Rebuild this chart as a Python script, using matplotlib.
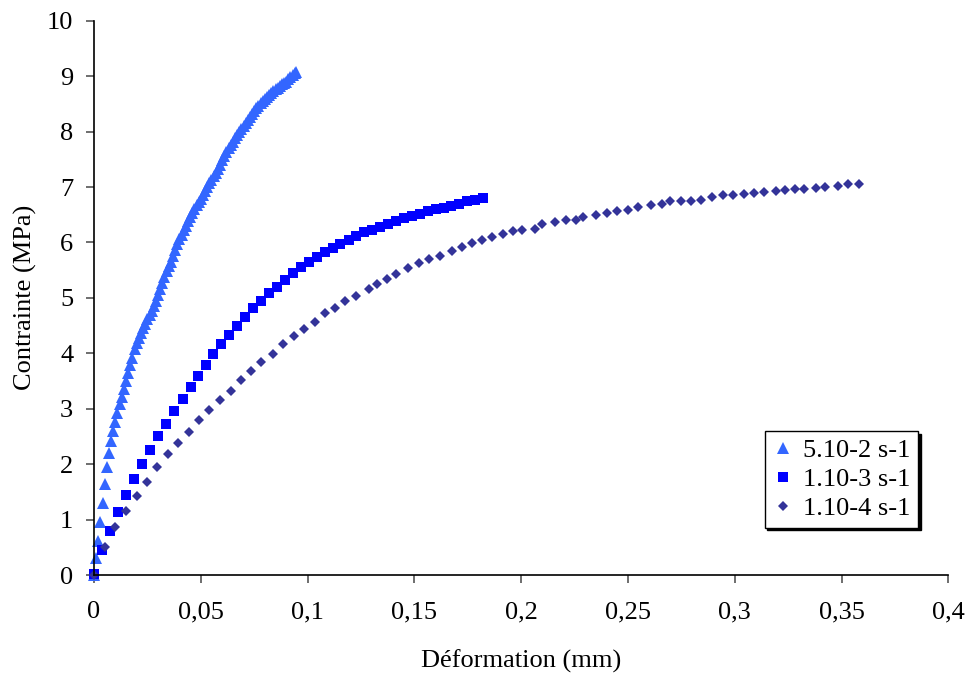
import matplotlib
matplotlib.use("Agg")
import matplotlib.pyplot as plt

# 5.10-2 s-1 (triangles)
strain_fast = [0.000, 0.001, 0.002, 0.003, 0.004, 0.005, 0.006, 0.007, 0.008, 0.009,
               0.010, 0.011, 0.012, 0.013, 0.014, 0.015, 0.016, 0.017, 0.018, 0.019,
               0.020, 0.021, 0.022, 0.023, 0.024, 0.025, 0.026, 0.027, 0.028, 0.029,
               0.030, 0.031, 0.032, 0.033, 0.034, 0.035, 0.036, 0.037, 0.038, 0.039,
               0.040, 0.041, 0.042, 0.043, 0.044, 0.045, 0.046, 0.047, 0.048, 0.049,
               0.050, 0.051, 0.052, 0.053, 0.054, 0.055, 0.056, 0.057, 0.058, 0.059,
               0.060, 0.061, 0.062, 0.063, 0.064, 0.065, 0.066, 0.067, 0.068, 0.069,
               0.070, 0.071, 0.072, 0.073, 0.074, 0.075, 0.076, 0.077, 0.078, 0.079,
               0.080, 0.081, 0.082, 0.083, 0.084, 0.085, 0.086, 0.087, 0.088, 0.089,
               0.090, 0.091, 0.092, 0.093, 0.094, 0.0948]
stress_fast = [0.00, 0.30, 0.62, 0.95, 1.30, 1.64, 1.95, 2.20, 2.41, 2.59,
               2.76, 2.93, 3.08, 3.22, 3.36, 3.50, 3.64, 3.78, 3.92, 4.07,
               4.18, 4.27, 4.36, 4.45, 4.53, 4.61, 4.69, 4.77, 4.86, 4.95,
               5.05, 5.16, 5.27, 5.38, 5.48, 5.57, 5.65, 5.75, 5.86, 5.97,
               6.06, 6.14, 6.22, 6.30, 6.38, 6.46, 6.54, 6.61, 6.67, 6.73,
               6.79, 6.86, 6.93, 7.00, 7.07, 7.13, 7.19, 7.26, 7.33, 7.40,
               7.48, 7.56, 7.63, 7.70, 7.76, 7.82, 7.88, 7.94, 7.99, 8.05,
               8.10, 8.16, 8.21, 8.26, 8.32, 8.37, 8.42, 8.46, 8.51, 8.55,
               8.59, 8.63, 8.66, 8.70, 8.73, 8.76, 8.79, 8.82, 8.85, 8.87,
               8.90, 8.94, 8.98, 9.02, 9.05, 9.08]

# 1.10-3 s-1 (squares)
strain_mid = [0.0000, 0.0039, 0.0075, 0.0114, 0.0151, 0.0189, 0.0226, 0.0262, 0.0299, 0.0337,
              0.0376, 0.0415, 0.0452, 0.0488, 0.0524, 0.0558, 0.0596, 0.0633, 0.0670, 0.0708,
              0.0745, 0.0783, 0.0820, 0.0858, 0.0895, 0.0932, 0.0970, 0.1007, 0.1042, 0.1081,
              0.1117, 0.1154, 0.1192, 0.1229, 0.1265, 0.1302, 0.1339, 0.1375, 0.1413, 0.1450,
              0.1489, 0.1525, 0.1564, 0.1600, 0.1637, 0.1673, 0.1709, 0.1746, 0.1786, 0.1821]
stress_mid = [0.02, 0.45, 0.79, 1.14, 1.44, 1.74, 2.01, 2.26, 2.50, 2.73,
              2.95, 3.17, 3.39, 3.59, 3.79, 3.98, 4.16, 4.33, 4.50, 4.66,
              4.81, 4.95, 5.08, 5.20, 5.33, 5.44, 5.55, 5.64, 5.73, 5.82,
              5.90, 5.97, 6.04, 6.12, 6.18, 6.23, 6.28, 6.34, 6.39, 6.44,
              6.48, 6.52, 6.56, 6.60, 6.63, 6.66, 6.70, 6.74, 6.77, 6.80]

# 1.10-4 s-1 (diamonds)
strain_slow = [0.0000, 0.0051, 0.0100, 0.0150, 0.0200, 0.0247, 0.0293, 0.0345, 0.0395, 0.0444,
               0.0493, 0.0540, 0.0590, 0.0640, 0.0688, 0.0734, 0.0784, 0.0836, 0.0886, 0.0936,
               0.0984, 0.1034, 0.1081, 0.1127, 0.1177, 0.1229, 0.1288, 0.1326, 0.1374, 0.1416,
               0.1472, 0.1522, 0.1569, 0.1622, 0.1676, 0.1723, 0.1770, 0.1818, 0.1865, 0.1915,
               0.1962, 0.2006, 0.2063, 0.2097, 0.2160, 0.2211, 0.2255, 0.2289, 0.2350, 0.2401,
               0.2451, 0.2501, 0.2548, 0.2609, 0.2661, 0.2695, 0.2749, 0.2793, 0.2844, 0.2894,
               0.2946, 0.2994, 0.3041, 0.3092, 0.3135, 0.3191, 0.3233, 0.3281, 0.3322, 0.3381,
               0.3423, 0.3482, 0.3529, 0.3581]
stress_slow = [0.00, 0.51, 0.87, 1.16, 1.43, 1.68, 1.95, 2.18, 2.38, 2.58,
               2.80, 2.97, 3.15, 3.32, 3.52, 3.68, 3.84, 3.99, 4.16, 4.31,
               4.43, 4.57, 4.72, 4.82, 4.95, 5.04, 5.16, 5.25, 5.34, 5.43,
               5.53, 5.63, 5.70, 5.76, 5.85, 5.92, 5.99, 6.05, 6.09, 6.16,
               6.20, 6.23, 6.25, 6.33, 6.37, 6.40, 6.41, 6.46, 6.50, 6.53,
               6.56, 6.59, 6.64, 6.67, 6.69, 6.74, 6.74, 6.75, 6.77, 6.82,
               6.85, 6.85, 6.88, 6.90, 6.91, 6.93, 6.94, 6.96, 6.97, 6.99,
               7.00, 7.02, 7.05, 7.06]

labels = ["5.10-2 s-1", "1.10-3 s-1", "1.10-4 s-1"]
x_ticks = [0, 0.05, 0.1, 0.15, 0.2, 0.25, 0.3, 0.35, 0.4]
x_tick_labels = ["0", "0,05", "0,1", "0,15", "0,2", "0,25", "0,3", "0,35", "0,4"]
y_ticks = list(range(0, 11))

plt.rcParams['font.family'] = ['Liberation Serif', 'DejaVu Serif']

fig = plt.figure(figsize=(9.67, 6.73), dpi=100)
ax = fig.add_axes([0.0972, 0.1456, 0.8835, 0.8236])

ax.plot(strain_fast, stress_fast, linestyle='none', marker='^', markersize=8,
        color='#3366FF', markeredgewidth=0, label=labels[0], clip_on=False)
ax.plot(strain_mid, stress_mid, linestyle='none', marker='s', markersize=6.5,
        color='#0000FF', markeredgewidth=0, label=labels[1], clip_on=False)
ax.plot(strain_slow, stress_slow, linestyle='none', marker='D', markersize=5.4,
        color='#333399', markeredgewidth=0, label=labels[2], clip_on=False)

ax.set_xlim(0, 0.4)
ax.set_ylim(0, 10)
ax.set_xticks(x_ticks)
ax.set_xticklabels(x_tick_labels)
ax.set_yticks(y_ticks)

for side in ['top', 'right']:
    ax.spines[side].set_visible(False)
for side in ['left', 'bottom']:
    ax.spines[side].set_linewidth(1.2)
    ax.spines[side].set_color('black')

ax.tick_params(axis='both', direction='out', length=6, width=1.2, color='#555555',
               labelsize=19)
ax.tick_params(axis='x', pad=13)
ax.tick_params(axis='y', pad=9)

ax.set_xlabel('Déformation (mm)', fontsize=19, labelpad=19)
ax.set_ylabel('Contrainte (MPa)', fontsize=19, labelpad=7)

leg = ax.legend(loc='upper left', bbox_to_anchor=(0.785, 0.26), fontsize=19,
                frameon=True, fancybox=False, edgecolor='black', framealpha=1,
                shadow={'color': 'black', 'alpha': 1}, borderpad=0.3,
                handlelength=0.8, handletextpad=0.35, labelspacing=0.2,
                borderaxespad=0)
leg.get_frame().set_linewidth(1.0)

fig.savefig('out.png', dpi=100)
